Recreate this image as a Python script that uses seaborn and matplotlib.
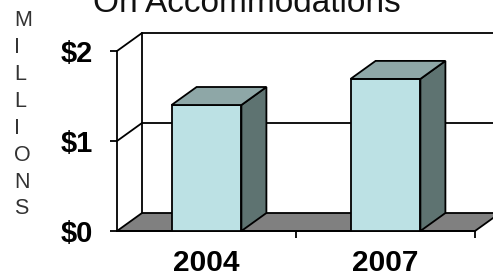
import matplotlib
matplotlib.use("Agg")
import matplotlib.pyplot as plt
from matplotlib.patches import Polygon
import seaborn as sns

years = ["2004", "2007"]
values = [1.40, 1.69]
ytick_vals = [0, 1, 2]
ytick_labels = ["$0", "$1", "$2"]
title_text = "On Accommodations"
ylabel_text = "MILLIONS"

sns.set_theme(style="white")
plt.rcParams["font.family"] = ["Liberation Sans", "DejaVu Sans"]

FRONT = "#bce1e4"
SIDE = "#5e7371"
TOP = "#8ea7a7"
FLOOR = "#808080"

fig = plt.figure(figsize=(4.93, 2.80), dpi=100)
fig.patch.set_facecolor("white")
ax = fig.add_axes([117 / 493, 49 / 280, 358 / 493, 180 / 280])
ax.set_facecolor("none")

sns.barplot(x=years, y=values, color=FRONT, width=0.39, edgecolor="black",
            linewidth=1.3, saturation=1, ax=ax, zorder=3)

ax.set_xlim(-0.5, 1.5)
ax.set_ylim(0, 2)

# depth offset in data units
px_x = 358 / 2.0
px_y = 180 / 2.0
dx = 25 / px_x
dy = 18 / px_y

x0, x1 = -0.5, 1.5
# floor
ax.add_patch(Polygon([(x0, 0), (x1, 0), (x1 + dx, dy), (x0 + dx, dy)],
                     closed=True, facecolor=FLOOR, edgecolor="black",
                     linewidth=1.3, zorder=1, clip_on=False))
# back wall & side wall lines
for v in ytick_vals:
    if v > 0:
        ax.plot([x0 + dx, x1 + dx + 0.3], [v + dy, v + dy], color="black",
                lw=1.3, zorder=1.5, clip_on=False)
        ax.plot([x0, x0 + dx], [v, v + dy], color="black", lw=1.3,
                zorder=1.5, clip_on=False)
ax.plot([x0 + dx, x0 + dx], [dy, max(ytick_vals) + dy], color="black", lw=1.3,
        zorder=1.5, clip_on=False)

# 3D sides and tops of bars
for p in ax.patches:
    if not hasattr(p, "get_width") or isinstance(p, Polygon):
        continue
    bx = p.get_x()
    bw = p.get_width()
    h = p.get_height()
    if bw <= 0 or h <= 0:
        continue
    ax.add_patch(Polygon([(bx + bw, 0), (bx + bw + dx, dy), (bx + bw + dx, h + dy), (bx + bw, h)],
                         closed=True, facecolor=SIDE, edgecolor="black",
                         linewidth=1.3, zorder=3.2, clip_on=False))
    ax.add_patch(Polygon([(bx, h), (bx + bw, h), (bx + bw + dx, h + dy), (bx + dx, h + dy)],
                         closed=True, facecolor=TOP, edgecolor="black",
                         linewidth=1.3, zorder=3.2, clip_on=False))

# spines
for s in ["top", "right"]:
    ax.spines[s].set_visible(False)
for s in ["left", "bottom"]:
    ax.spines[s].set_color("black")
    ax.spines[s].set_linewidth(1.3)
    ax.spines[s].set_zorder(2)

ax.set_yticks(ytick_vals)
ax.set_yticklabels(ytick_labels)
ax.tick_params(axis="y", which="major", length=5, width=1.3, direction="out",
               color="black", pad=12, labelsize=21, labelcolor="black", left=True)
for t in ax.get_yticklabels():
    t.set_fontweight("bold")

ax.set_xticks([0.5, 1.5], minor=True)
ax.tick_params(axis="x", which="minor", length=5, width=1.3, direction="out",
               color="black", bottom=True)
ax.tick_params(axis="x", which="major", length=0, pad=13, labelsize=21.5,
               labelcolor="black")
for t in ax.get_xticklabels():
    t.set_fontweight("bold")
ax.set_xlabel("")
ax.set_ylabel("")

fig.text(247 / 493, 1 - 12 / 280, title_text, ha="center", va="baseline",
         fontsize=24, color="#111111")
fig.text(14 / 493, 1 - 10 / 280, "\n".join(ylabel_text), ha="left", va="top",
         fontsize=15.5, color="#333333", linespacing=1.37,
         multialignment="left")

fig.savefig("out.png", dpi=100)
